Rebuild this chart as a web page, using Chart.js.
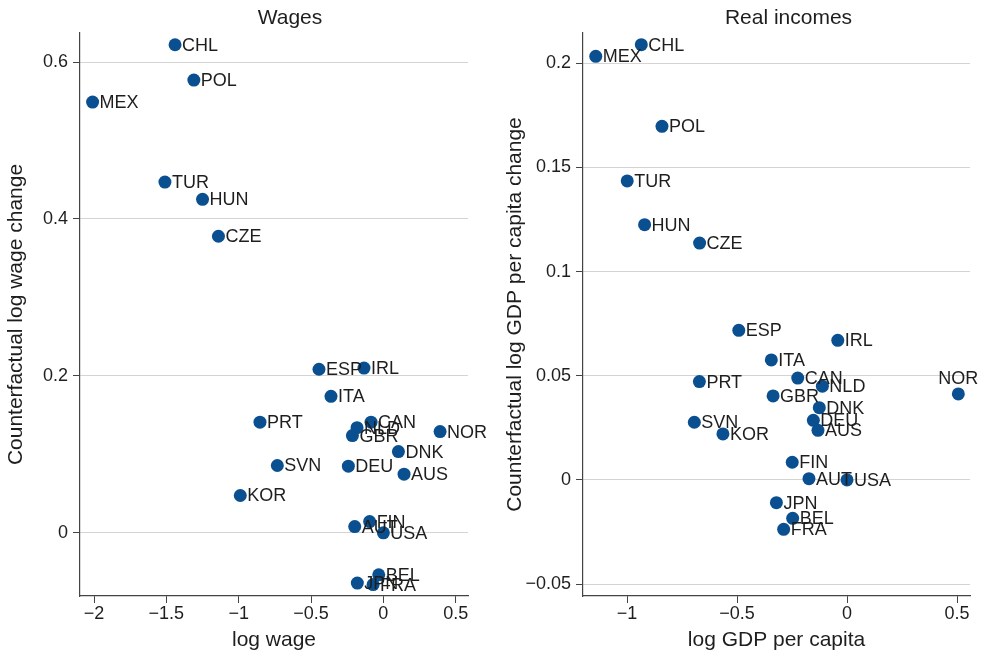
<!DOCTYPE html>
<html>
<head>
<meta charset="utf-8">
<script src="https://cdn.jsdelivr.net/npm/chart.js@4.4.1/dist/chart.umd.min.js"></script>
<style>
  html, body { margin: 0; padding: 0; background: #fff; }
  #wrap { position: relative; width: 983px; height: 654px; }
  canvas { position: absolute; top: 0; }
</style>
</head>
<body>
<div id="wrap">
  <canvas id="wages" width="490" height="654" style="left:0px"></canvas>
  <canvas id="incomes" width="493" height="654" style="left:490px"></canvas>
</div>
<script>
// Countries, in the same order for every series below
const countries = ['CHL','POL','MEX','TUR','HUN','CZE','ESP','IRL','ITA','PRT','CAN','NLD','GBR','NOR','DNK','SVN','DEU','AUS','KOR','FIN','AUT','USA','BEL','JPN','FRA'];

// Wages panel: log wage (relative to USA) vs counterfactual log wage change
const logWage    = [-1.44,-1.31,-2.01,-1.51,-1.25,-1.14,-0.445,-0.134,-0.362,-0.853,-0.085,-0.182,-0.214,0.392,0.104,-0.733,-0.242,0.143,-0.989,-0.095,-0.198,0,-0.032,-0.180,-0.071];
const wageChange = [0.622,0.577,0.549,0.447,0.425,0.378,0.2085,0.210,0.174,0.141,0.141,0.134,0.124,0.129,0.1036,0.0858,0.085,0.0747,0.0476,0.0144,0.008,0,-0.0535,-0.064,-0.066];

// Real incomes panel: log GDP per capita vs counterfactual log GDP per capita change
const logGdp     = [-0.935,-0.841,-1.142,-0.999,-0.920,-0.670,-0.492,-0.042,-0.344,-0.671,-0.224,-0.112,-0.336,0.506,-0.126,-0.694,-0.153,-0.132,-0.564,-0.249,-0.173,0,-0.247,-0.321,-0.288];
const gdpChange  = [0.2089,0.1697,0.2033,0.1435,0.1225,0.1137,0.0718,0.0670,0.0576,0.0472,0.0489,0.0450,0.0403,0.0413,0.0347,0.0277,0.0286,0.0238,0.0221,0.0085,0.0006,0,-0.0184,-0.0109,-0.0237];

// Tick values
const wageXTicks = [-2,-1.5,-1,-0.5,0,0.5];
const wageYTicks = [0,0.2,0.4,0.6];
const gdpXTicks  = [-1,-0.5,0,0.5];
const gdpYTicks  = [-0.05,0,0.05,0.1,0.15,0.2];

const FONT = "'Liberation Sans', Arial, Helvetica, sans-serif";
const INK = '#1e1e1e';
const DOT = '#0a4f8f';
const GRID = '#d4d4d4';
const AXIS = '#444444';

function fmt(v) {
  const s = String(Math.round(v * 1000) / 1000);
  return s.replace('-', '\u2212');
}

// Country codes beside each marker (a few placed above)
const pointLabels = {
  id: 'pointLabels',
  afterDatasetsDraw(chart, args, opts) {
    const ctx = chart.ctx;
    const meta = chart.getDatasetMeta(0);
    const names = chart.data.datasets[0].names;
    ctx.save();
    ctx.font = '18px ' + FONT;
    ctx.fillStyle = INK;
    meta.data.forEach((pt, i) => {
      const name = names[i];
      if ((opts.above || []).includes(name)) {
        ctx.textAlign = 'center';
        ctx.textBaseline = 'alphabetic';
        ctx.fillText(name, pt.x, pt.y - 10);
      } else {
        ctx.textAlign = 'left';
        ctx.textBaseline = 'middle';
        ctx.fillText(name, pt.x + 7, pt.y + 1);
      }
    });
    ctx.restore();
  }
};

// Panel heading above the plot area
const panelTitle = {
  id: 'panelTitle',
  afterDraw(chart, args, opts) {
    const ctx = chart.ctx;
    const a = chart.chartArea;
    ctx.save();
    ctx.font = '21px ' + FONT;
    ctx.fillStyle = INK;
    ctx.textAlign = 'center';
    ctx.textBaseline = 'middle';
    ctx.fillText(opts.text, (a.left + a.right) / 2 + opts.shift, 18);
    ctx.restore();
  }
};

function makePanel(id, cfg) {
  const points = cfg.xs.map((x, i) => ({ x: x, y: cfg.ys[i] }));
  return new Chart(document.getElementById(id), {
    type: 'scatter',
    data: {
      datasets: [{
        data: points,
        names: countries,
        backgroundColor: DOT,
        borderWidth: 0,
        pointRadius: 6.5,
        pointHoverRadius: 6.5
      }]
    },
    options: {
      responsive: false,
      animation: false,
      events: [],
      layout: { padding: { top: 33, right: cfg.padRight, bottom: 0, left: 0 } },
      plugins: {
        legend: { display: false },
        tooltip: { enabled: false },
        title: { display: false },
        pointLabels: { above: cfg.above || [] },
        panelTitle: { text: cfg.title, shift: cfg.titleShift }
      },
      scales: {
        x: {
          type: 'linear',
          min: cfg.xMin, max: cfg.xMax,
          afterBuildTicks: s => { s.ticks = cfg.xTicks.map(v => ({ value: v })); },
          afterFit: s => { s.height = 58; },
          grid: { drawOnChartArea: false, drawTicks: true, tickLength: 7, tickColor: AXIS },
          border: { display: true, color: AXIS, width: 1.2 },
          ticks: {
            color: INK, padding: 0, maxRotation: 0, autoSkip: false,
            font: { family: FONT, size: 18 },
            callback: v => fmt(v)
          },
          title: {
            display: true, text: cfg.xTitle, color: INK,
            font: { family: FONT, size: 21, lineHeight: 1.2 },
            padding: { top: 0, bottom: 1.5 }
          }
        },
        y: {
          type: 'linear',
          min: cfg.yMin, max: cfg.yMax,
          afterBuildTicks: s => { s.ticks = cfg.yTicks.map(v => ({ value: v })); },
          afterFit: s => { s.width = cfg.yWidth; },
          grid: { color: GRID, lineWidth: 1, drawTicks: true, tickLength: 7, tickColor: AXIS },
          border: { display: true, color: AXIS, width: 1.2 },
          ticks: {
            color: INK, padding: 5, autoSkip: false,
            font: { family: FONT, size: 18 },
            callback: v => fmt(v)
          },
          title: {
            display: true, text: cfg.yTitle, color: INK,
            font: { family: FONT, size: 21, lineHeight: 1.2 },
            padding: { top: cfg.yTitlePad, bottom: 0 }
          }
        }
      }
    },
    plugins: [pointLabels, panelTitle]
  });
}

makePanel('wages', {
  title: 'Wages', titleShift: 16,
  xs: logWage, ys: wageChange,
  xMin: -2.097, xMax: 0.585, yMin: -0.0805, yMax: 0.637,
  xTicks: wageXTicks, yTicks: wageYTicks,
  xTitle: 'log wage', yTitle: 'Counterfactual log wage change',
  yWidth: 80, padRight: 22, yTitlePad: 3.5
});

makePanel('incomes', {
  title: 'Real incomes', titleShift: 12,
  xs: logGdp, ys: gdpChange,
  xMin: -1.2, xMax: 0.559, yMin: -0.0557, yMax: 0.2145,
  xTicks: gdpXTicks, yTicks: gdpYTicks,
  xTitle: 'log GDP per capita', yTitle: 'Counterfactual log GDP per capita change',
  yWidth: 93, padRight: 13, yTitlePad: 12.5,
  above: ['NOR']
});
</script>
</body>
</html>
